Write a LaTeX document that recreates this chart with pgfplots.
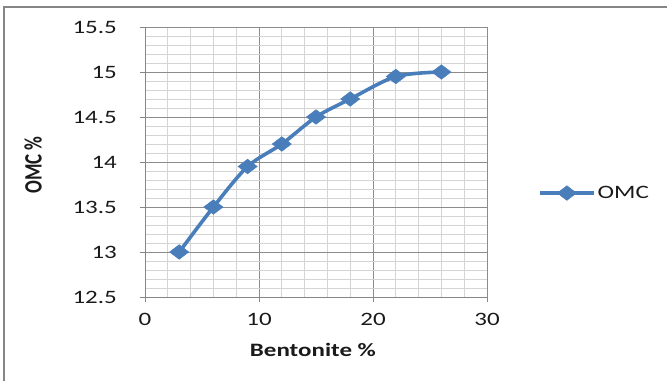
\documentclass[border=0pt]{standalone}
\usepackage{graphicx}
\usepackage{pgfplots}
\pgfplotsset{compat=1.18}
\usepackage{fontspec}
\setmainfont{Carlito}

\definecolor{serieblue}{HTML}{4A7EBB}
\definecolor{majgrid}{HTML}{8C8C8C}
\definecolor{mingrid}{HTML}{D4D4D4}
\definecolor{axisgray}{HTML}{868686}
\definecolor{labeltext}{HTML}{1A1A1A}

\begin{document}
\begin{tikzpicture}[x=1bp,y=1bp]
  % chart area and its frame
  \path[use as bounding box] (0,0) rectangle (667,381);
  \draw[axisgray, line width=1.6bp] (4,0) -- (4,374) -- (667,374);

  \begin{axis}[
    at={(145bp,84bp)}, anchor=south west,
    scale only axis, width=342bp, height=270bp,
    xmin=0, xmax=30, ymin=12.5, ymax=15.5,
    xtick={0,10,20,30}, minor x tick num=4,
    ytick={12.5,13,13.5,14,14.5,15,15.5}, minor y tick num=4,
    grid=both,
    major grid style={majgrid, line width=0.9bp},
    minor grid style={mingrid, line width=0.9bp},
    axis line style={axisgray, line width=0.9bp},
    axis x line*=bottom, axis y line*=left,
    tick align=outside, major tick length=5bp, minor tick length=0pt,
    tick style={axisgray, line width=0.9bp},
    /pgf/number format/assume math mode=true,
    ticklabel style={font=\fontsize{19}{22}\selectfont, text=labeltext, xscale=1.32},
    yticklabel style={xshift=-14bp},
    xticklabel style={yshift=-8bp},
    xlabel={Bentonite \%}, ylabel={OMC \%},
    label style={font=\bfseries\fontsize{19}{22}\selectfont, text=labeltext},
    xlabel style={at={(axis description cs:0.491,-0.196)}, anchor=center, xscale=1.32},
    ylabel style={at={(axis description cs:-0.327,0.489)}, anchor=center, yscale=1.32},
    legend style={draw=none, fill=none, at={(axis description cs:1.14,0.385)}, anchor=west,
                  font=\fontsize{19}{22}\selectfont, text=labeltext},
    legend cell align=left,
    legend image code/.code={%
      \draw[#1, mark repeat=2, mark phase=2] plot coordinates {(0bp,0bp) (27bp,0bp) (54bp,0bp)};},
  ]
    \addplot[serieblue, line width=3.6bp, smooth, tension=0.5,
             mark=diamond*, mark size=7.3bp,
             mark options={solid, fill=serieblue, draw=serieblue, line width=0.5bp, xscale=1.75}]
      coordinates {
        (3,13.0) (6,13.5) (9,13.95) (12,14.2) (15,14.5) (18,14.7) (22,14.95) (26,15.0)
      };
    \addlegendentry{\scalebox{1.32}[1]{OMC}}
  \end{axis}
\end{tikzpicture}
\end{document}
